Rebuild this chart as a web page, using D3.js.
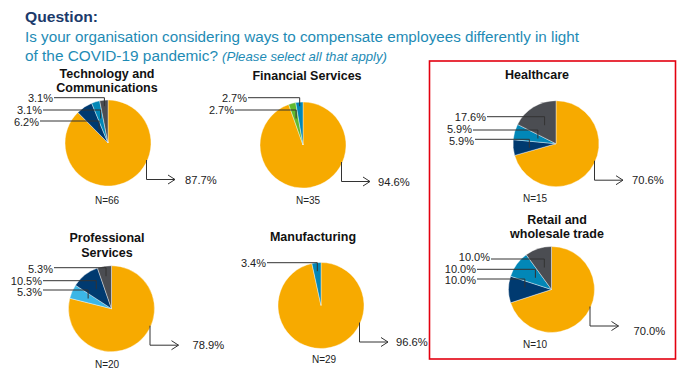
<!DOCTYPE html>
<html><head><meta charset="utf-8">
<script src="https://cdn.jsdelivr.net/npm/d3@7"></script>
<style>html,body{margin:0;padding:0;background:#fff;}svg{display:block;font-family:"Liberation Sans",Arial,sans-serif;}</style>
</head><body>
<svg id="c" width="700" height="378"></svg>
<script>
// ---- data ----
const sectors = [["Technology and","Communications"],["Financial Services"],["Healthcare"],["Professional","Services"],["Manufacturing"],["Retail and","wholesale trade"]];
const nCounts = [66, 35, 15, 20, 29, 10];
const optionKeys = ["orange","green","sky","navy","teal","gray"];
const optOrange = [87.7, 94.6, 70.6, 78.9, 96.6, 70.0];
const optGreen  = [0, 2.7, 0, 0, 0, 0];
const optSky    = [0, 0, 0, 5.3, 0, 0];
const optNavy   = [6.2, 0, 5.9, 10.5, 0, 10.0];
const optTeal   = [3.1, 2.7, 5.9, 0, 3.4, 10.0];
const optGray   = [3.1, 0, 17.6, 5.3, 0, 10.0];
const optionValues = [optOrange, optGreen, optSky, optNavy, optTeal, optGray];

// ---- styles / layout ----
const colors = {orange:"#F7AA00", green:"#62B92E", sky:"#3CB6E6", navy:"#003A70", teal:"#0287B7", gray:"#4B4D52"};
const layout = [
  {cx:108,   cy:143,   tx:107, ty:[73,87],   nx:107, ny:200, ly:[-45.3,-33,-22],    tyL:[-44.7,-33,-21.3], lx:[54,43,40],    bx:77},
  {cx:303,   cy:145,   tx:307, ty:[75],      nx:308, ny:200, ly:[-47.3,-35],        tyL:[-47,-35],         lx:[248,235],     bx:75},
  {cx:556,   cy:143.7, tx:537, ty:[74],      nx:535, ny:198, ly:[-27,-13.7,-4.4],   tyL:[-26.4,-14.7,-2.7],lx:[487,473,475], bx:76},
  {cx:111.5, cy:308.7, tx:107, ty:[237,252], nx:107, ny:364, ly:[-41,-28,-18.7],    tyL:[-39.7,-28,-17],   lx:[54,43,43],    bx:81},
  {cx:321,   cy:305.5, tx:313, ty:[236],     nx:324, ny:359, ly:[-42.8],            tyL:[-42.8],           lx:[267],         bx:75},
  {cx:551.5, cy:289.5, tx:557, ty:[219,233], nx:535, ny:344, ly:[-30.5,-20.2,-10.5],tyL:[-32.2,-20.5,-9.2],lx:[491,477,477], bx:82, bdy:5}
];
const R = 43;

const svg = d3.select("#c");

// header
svg.append("text").attr("x",25).attr("y",22).attr("font-size",15).attr("font-weight","bold")
  .attr("fill","#1B3A6B").attr("textLength",73).attr("lengthAdjust","spacingAndGlyphs").text("Question:");
svg.append("text").attr("x",25).attr("y",42).attr("font-size",15.5).attr("fill","#1E8BB5")
  .attr("textLength",554).attr("lengthAdjust","spacingAndGlyphs")
  .text("Is your organisation considering ways to compensate employees differently in light");
svg.append("text").attr("x",25).attr("y",61).attr("font-size",15.5).attr("fill","#1E8BB5")
  .attr("textLength",193).attr("lengthAdjust","spacingAndGlyphs").text("of the COVID-19 pandemic?");
svg.append("text").attr("x",222).attr("y",61).attr("font-size",13).attr("font-style","italic").attr("fill","#1E8BB5")
  .attr("textLength",165).attr("lengthAdjust","spacingAndGlyphs").text("(Please select all that apply)");

// red highlight box
svg.append("rect").attr("x",429.5).attr("y",61).attr("width",246).attr("height",298)
  .attr("fill","none").attr("stroke","#E3000F").attr("stroke-width",1.6);

const pie = d3.pie().sort(null).value(d => d.v);
const arc = d3.arc().innerRadius(0).outerRadius(R);

sectors.forEach((title, i) => {
  const L = layout[i];
  const data = optionKeys.map((k, j) => ({k, v: optionValues[j][i]})).filter(d => d.v > 0);
  const arcs = pie(data);
  const g = svg.append("g");

  // title
  title.forEach((t, j) => {
    g.append("text").attr("x", L.tx).attr("y", L.ty[j] + 4.5).attr("text-anchor","middle")
      .attr("font-size",12.5).attr("font-weight","bold").attr("fill","#111").text(t);
  });

  // slices
  g.append("g").attr("transform",`translate(${L.cx},${L.cy})`)
    .selectAll("path").data(arcs).join("path")
    .attr("d", arc).attr("fill", d => colors[d.data.k])
    .attr("stroke","#fff").attr("stroke-width",0.4);

  // big slice arrow + label
  const big = arcs[0];
  const x0 = L.cx + 38.5, y0 = L.cy + 17, y1 = L.cy + 36.5, x1 = L.cx + 67;
  g.append("path").attr("d", `M${x0},${y0}V${y1}H${x1}`).attr("fill","none").attr("stroke","#333").attr("stroke-width",1);
  g.append("path").attr("d", `M${x1-7},${y1-4.5}L${x1},${y1}L${x1-7},${y1+4.5}`).attr("fill","none").attr("stroke","#333").attr("stroke-width",1);
  g.append("text").attr("x", L.cx + L.bx).attr("y", y1 + 4 + (L.bdy || 0)).attr("font-size",11.2).attr("fill","#222")
    .text(big.data.v.toFixed(1) + "%");

  // small slices: top label = slice nearest 12 o'clock
  const small = arcs.slice(1).reverse();
  small.forEach((a, j) => {
    const y = L.cy + L.ly[j];
    const yEnd = y + 8.5;
    const mid = (a.startAngle + a.endAngle) / 2;
    let xEnd;
    const c = Math.cos(mid);
    if (c > 0.15) {
      xEnd = L.cx + (L.cy - yEnd) * Math.tan(mid);
    } else {
      xEnd = -Infinity;
    }
    xEnd = Math.max(xEnd, L.cx - 0.62 * R);
    xEnd = Math.min(xEnd, L.cx - 2);
    g.append("path").attr("d", `M${L.lx[j]},${y}H${xEnd}V${yEnd}`).attr("fill","none")
      .attr("stroke","#333").attr("stroke-width",1);
    g.append("text").attr("x", L.lx[j] - 1).attr("y", L.cy + L.tyL[j] + 4).attr("text-anchor","end")
      .attr("font-size",11).attr("fill","#222").text(a.data.v.toFixed(1) + "%");
  });

  // N
  g.append("text").attr("x", L.nx).attr("y", L.ny + 3.5).attr("text-anchor","middle")
    .attr("font-size",10).attr("fill","#222").text("N=" + nCounts[i]);
});
</script>
</body></html>
